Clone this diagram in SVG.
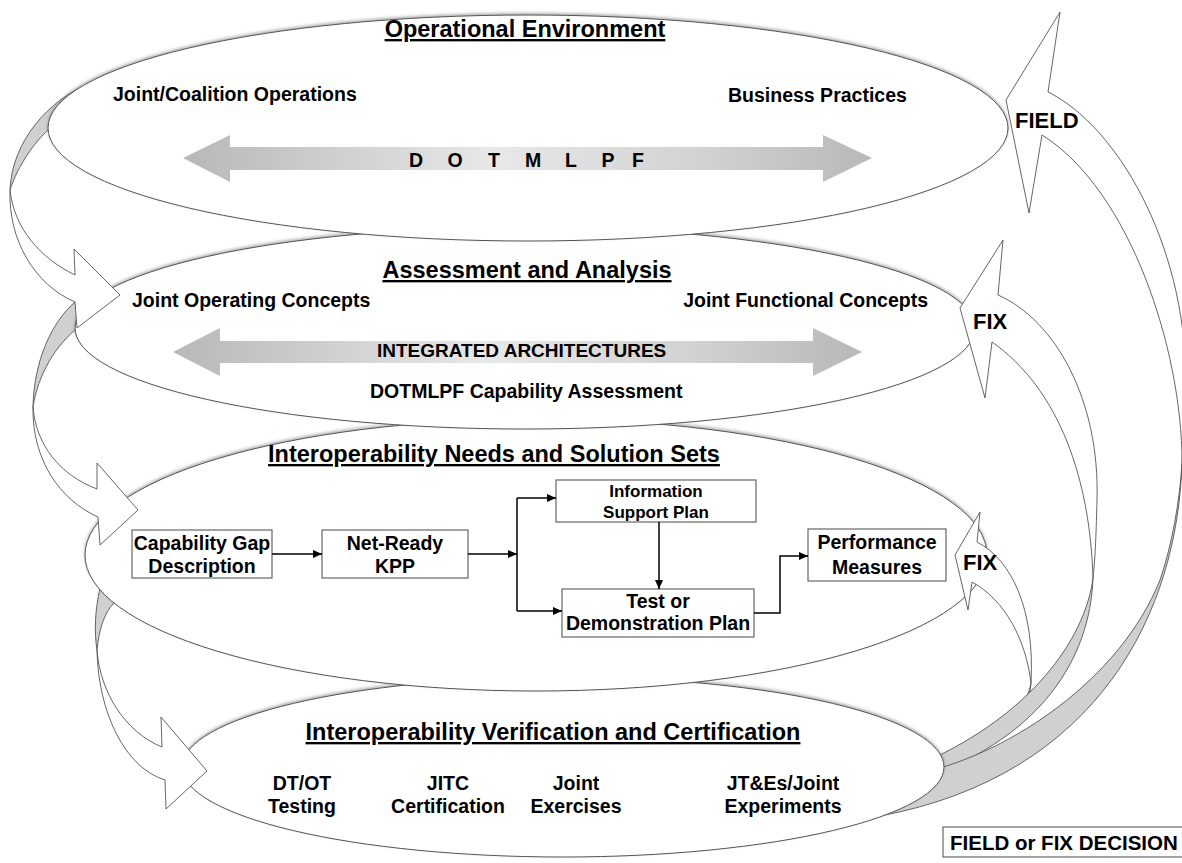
<svg xmlns="http://www.w3.org/2000/svg" width="1182" height="863" viewBox="0 0 1182 863">
<defs>
<style>
.lay{fill:#fff;stroke:#555;stroke-width:1;}
.rib{fill:#fff;stroke:#555;stroke-width:0.9;stroke-linejoin:miter;}
.back{fill:#d0d0d0;stroke:#555;stroke-width:0.9;}
.box{fill:#fff;stroke:#666;stroke-width:1.2;}
.t{font-family:"Liberation Sans",Arial,sans-serif;font-weight:bold;fill:#000;}
.ttl{font-size:23.5px;text-decoration:underline;text-anchor:middle;}
.lbl{font-size:19.5px;}
.c{text-anchor:middle;}
.big{font-size:22px;}
.con{fill:none;stroke:#000;stroke-width:1.5;}
</style>
<marker id="ah" markerUnits="userSpaceOnUse" markerWidth="10" markerHeight="8" refX="9" refY="4" orient="auto">
<path d="M0,0 L9,4 L0,8 Z" fill="#000"/>
</marker>
<linearGradient id="g1" gradientUnits="userSpaceOnUse" x1="183" y1="0" x2="872" y2="0">
<stop offset="0" stop-color="#b8b8b8"/>
<stop offset="0.12" stop-color="#c4c4c4"/>
<stop offset="0.45" stop-color="#e8e8e8"/>
<stop offset="0.75" stop-color="#d2d2d2"/>
<stop offset="1" stop-color="#b8b8b8"/>
</linearGradient>
<linearGradient id="g2" gradientUnits="userSpaceOnUse" x1="173" y1="0" x2="862" y2="0">
<stop offset="0" stop-color="#b8b8b8"/>
<stop offset="0.12" stop-color="#c4c4c4"/>
<stop offset="0.45" stop-color="#e8e8e8"/>
<stop offset="0.75" stop-color="#d2d2d2"/>
<stop offset="1" stop-color="#b8b8b8"/>
</linearGradient>
<filter id="sh" x="-5%" y="-10%" width="110%" height="120%">
<feDropShadow dx="0" dy="-1.5" stdDeviation="1.5" flood-color="#777" flood-opacity="0.6"/>
</filter>
</defs>
<rect x="0" y="0" width="1182" height="863" fill="#fff"/>

<!-- back sides of the right-hand ribbons -->
<g id="ribbon-backs-right">
<path class="back" d="M1031,683 C1028,700 1018,714 1000,725 L1012,728 C1024,713 1030,700 1031,683 Z"/>
<path class="back" d="M1093,578 C1085,640 1030,715 925,762 L930,776 C1040,735 1090,660 1093,578 Z"/>
<path class="back" d="M1182,462 C1178,610 1100,775 880,816 L925,772 C1010,752 1120,680 1160,580 C1172,545 1180,500 1182,462 Z"/>
</g>

<g id="layer4">
<ellipse class="lay" filter="url(#sh)" cx="563" cy="767" rx="381" ry="90"/>
</g>
<path id="back3" class="back" d="M100,588 C95,610 94,632 97,650 C99,630 104,613 114,603 L112,590 Z"/>
<g id="layer3">
<ellipse class="lay" filter="url(#sh)" cx="536" cy="555" rx="451" ry="136"/>
</g>
<path id="back2" class="back" d="M75,302 C52,322 34,360 33,407 C38,375 55,345 80,326 Z"/>
<g id="layer2">
<ellipse class="lay" filter="url(#sh)" cx="525" cy="328" rx="450" ry="101"/>
</g>
<path id="back1" class="back" d="M88,84 C50,100 12,140 10,190 C18,165 35,142 48,130 L70,110 Z"/>
<g id="layer1">
<ellipse class="lay" filter="url(#sh)" cx="528" cy="128" rx="480" ry="113"/>
</g>

<!-- inner double arrows -->
<g id="dotmlpf-arrow">
<path d="M183,158 L230,135 L230,147 L823,147 L823,135 L872,158 L823,182 L823,170 L230,170 L230,182 Z" fill="url(#g1)"/>
<g class="t lbl c">
<text x="416" y="167">D</text><text x="455" y="167">O</text><text x="494" y="167">T</text><text x="533" y="167">M</text><text x="571" y="167">L</text><text x="608" y="167">P</text><text x="638" y="167">F</text>
</g>
</g>
<g id="ia-arrow">
<path d="M173,352 L220,328 L220,341 L813,341 L813,328 L862,352 L813,376 L813,363 L220,363 L220,376 Z" fill="url(#g2)"/>
<text class="t" x="377" y="357" font-size="19">INTEGRATED ARCHITECTURES</text>
</g>

<!-- left spiral arrows -->
<g id="spiral-left">
<path class="rib" d="M10,190 C14,228 40,258 75,275 L74,249 L120,295 L77,328 L75,302 C35,285 8,240 10,190 Z"/>
<path class="rib" d="M33,407 C36,445 60,475 97,489 L97,463 L138,510 L100,545 L98,517 C60,500 32,460 33,407 Z"/>
<path class="rib" d="M97,650 C100,692 125,732 162,747 L161,717 L207,771 L166,809 L165,780 C125,768 98,712 97,650 Z"/>
</g>

<!-- right feedback arrows -->
<g id="arrow-field">
<path class="rib" d="M1006,100 L1060,12 L1048,92 C1115,125 1185,240 1186,380 L1182,462 C1182,350 1130,190 1042,135 L1029,213 Z"/>
<text class="t big" x="1015" y="128">FIELD</text>
</g>
<g id="arrow-fix1">
<path class="rib" d="M960,308 L1003,240 L998,295 C1055,320 1100,400 1097,500 C1096,540 1095,560 1093,578 C1090,480 1060,390 992,342 L985,398 Z"/>
<text class="t big" x="973" y="329">FIX</text>
</g>
<g id="arrow-fix2">
<path class="rib" d="M955,555 L980,512 L977,542 C1012,560 1035,610 1031,683 C1026,640 1005,600 972,582 L968,610 Z"/>
<text class="t big" x="963" y="570">FIX</text>
</g>

<!-- layer texts -->
<g id="layer1-text" class="t">
<text class="ttl" x="525" y="37">Operational Environment</text>
<text class="lbl" x="113" y="101">Joint/Coalition Operations</text>
<text class="lbl" x="728" y="102">Business Practices</text>
</g>
<g id="layer2-text" class="t">
<text class="ttl" x="527" y="278">Assessment and Analysis</text>
<text class="lbl" x="132" y="307">Joint Operating Concepts</text>
<text class="lbl" x="928" y="307" text-anchor="end">Joint Functional Concepts</text>
<text class="lbl" x="370" y="398">DOTMLPF Capability Assessment</text>
</g>
<g id="layer3-text" class="t">
<text class="ttl" x="494" y="462">Interoperability Needs and Solution Sets</text>
</g>
<g id="layer4-text" class="t">
<text class="ttl" x="553" y="740">Interoperability Verification and Certification</text>
<text class="lbl c" x="302" y="790">DT/OT</text><text class="lbl c" x="302" y="813">Testing</text>
<text class="lbl c" x="448" y="790">JITC</text><text class="lbl c" x="448" y="813">Certification</text>
<text class="lbl c" x="576" y="790">Joint</text><text class="lbl c" x="576" y="813">Exercises</text>
<text class="lbl c" x="783" y="790">JT&amp;Es/Joint</text><text class="lbl c" x="783" y="813">Experiments</text>
</g>

<!-- flowchart nodes -->
<g id="n-capgap">
<rect class="box" x="132" y="530" width="140" height="48"/>
<text class="t lbl c" x="202" y="550">Capability Gap</text>
<text class="t lbl c" x="202" y="573">Description</text>
</g>
<g id="n-netready">
<rect class="box" x="322" y="530" width="146" height="48"/>
<text class="t lbl c" x="395" y="550">Net-Ready</text>
<text class="t lbl c" x="395" y="573">KPP</text>
</g>
<g id="n-isp">
<rect class="box" x="556" y="480" width="200" height="42"/>
<text class="t c" font-size="17" x="656" y="497">Information</text>
<text class="t c" font-size="17" x="656" y="518">Support Plan</text>
</g>
<g id="n-test">
<rect class="box" x="562" y="589" width="192" height="48"/>
<text class="t lbl c" x="658" y="608">Test or</text>
<text class="t lbl c" x="658" y="630">Demonstration Plan</text>
</g>
<g id="n-perf">
<rect class="box" x="808" y="529" width="138" height="52"/>
<text class="t lbl c" x="877" y="549">Performance</text>
<text class="t lbl c" x="877" y="574">Measures</text>
</g>

<g id="connectors">
<line class="con" x1="272" y1="554" x2="322" y2="554" marker-end="url(#ah)"/>
<line class="con" x1="468" y1="554" x2="517" y2="554" marker-end="url(#ah)"/>
<line class="con" x1="517" y1="498" x2="517" y2="611"/>
<line class="con" x1="517" y1="498" x2="556" y2="498" marker-end="url(#ah)"/>
<line class="con" x1="517" y1="611" x2="562" y2="611" marker-end="url(#ah)"/>
<line class="con" x1="659" y1="522" x2="659" y2="589" marker-end="url(#ah)"/>
<polyline class="con" points="754,613 780,613 780,556 808,556" marker-end="url(#ah)"/>
</g>

<g id="legend">
<rect x="943" y="827" width="250" height="30" fill="#fff" stroke="#666" stroke-width="1.2"/>
<text class="t" x="950" y="850" font-size="20.5">FIELD or FIX DECISION</text>
</g>
</svg>
